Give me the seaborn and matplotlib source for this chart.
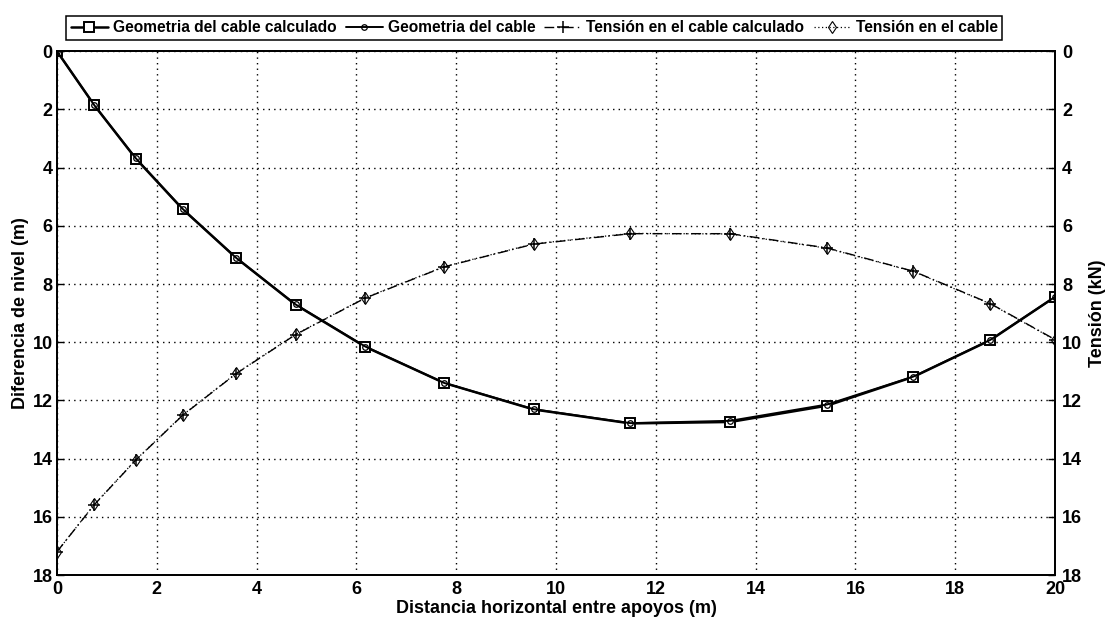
import matplotlib
matplotlib.use("Agg")
import matplotlib.pyplot as plt
import seaborn as sns
import pandas as pd

# Horizontal position of each measuring point along the span (m)
distancia = [0.0, 0.75, 1.58, 2.52, 3.59, 4.78, 6.18, 7.76, 9.55, 11.49,
             13.49, 15.43, 17.16, 18.70, 20.0]

# Cable sag below the upper support (m)
geometria_calculada = [0.0, 1.86, 3.69, 5.43, 7.10, 8.71, 10.16, 11.40, 12.31,
                       12.79, 12.74, 12.18, 11.19, 9.93, 8.44]
geometria_medida = [0.0, 1.86, 3.68, 5.42, 7.10, 8.70, 10.15, 11.40, 12.30,
                    12.78, 12.70, 12.14, 11.18, 9.92, 8.44]

# Cable tension (kN)
tension_calculada = [17.2, 15.58, 14.05, 12.51, 11.08, 9.74, 8.48, 7.41, 6.63,
                     6.27, 6.27, 6.76, 7.56, 8.67, 9.91]
tension_medida = [17.2, 15.57, 14.04, 12.50, 11.07, 9.73, 8.47, 7.40, 6.62,
                  6.26, 6.28, 6.77, 7.57, 8.68, 9.92]

y_ticks = [0, 2, 4, 6, 8, 10, 12, 14, 16, 18]
x_ticks = [0, 2, 4, 6, 8, 10, 12, 14, 16, 18, 20]

sns.set_style("white")
plt.rcParams["font.family"] = ["Liberation Sans", "DejaVu Sans"]
plt.rcParams["font.weight"] = "bold"
plt.rcParams["axes.labelweight"] = "bold"
plt.rcParams["text.color"] = "black"
plt.rcParams["axes.labelcolor"] = "black"
plt.rcParams["xtick.color"] = "black"
plt.rcParams["ytick.color"] = "black"

df = pd.DataFrame({
    "x": distancia,
    "geo_calc": geometria_calculada,
    "geo": geometria_medida,
    "ten_calc": tension_calculada,
    "ten": tension_medida,
})

fig = plt.figure(figsize=(11.06, 6.17), dpi=100)
ax = fig.add_axes([0.0515, 0.068, 0.9025, 0.849])
ax2 = ax.twinx()

sns.lineplot(data=df, x="x", y="geo_calc", ax=ax, color="black", lw=1.8,
             marker="s", markersize=7, markerfacecolor="white",
             markeredgecolor="black", markeredgewidth=1.4,
             label="Geometria del cable calculado", legend=False, sort=False)
sns.lineplot(data=df, x="x", y="geo", ax=ax, color="black", lw=1.4,
             marker="o", markersize=4, markerfacecolor="none",
             markeredgecolor="black", markeredgewidth=0.9,
             label="Geometria del cable", legend=False, sort=False)
sns.lineplot(data=df, x="x", y="ten_calc", ax=ax2, color="black", lw=1.0,
             linestyle=(0, (7, 3, 1, 3)), marker="+", markersize=8,
             markeredgecolor="black", markeredgewidth=1.1,
             label="Tensión en el cable calculado", legend=False, sort=False)
sns.lineplot(data=df, x="x", y="ten", ax=ax2, color="black", lw=0.9,
             linestyle=(0, (1, 2)), marker="d", markersize=6,
             markerfacecolor="none", markeredgecolor="black",
             markeredgewidth=0.8,
             label="Tensión en el cable", legend=False, sort=False)

for a in (ax, ax2):
    a.set_xlim(0, 20)
    a.set_ylim(18, 0)
    a.set_yticks(y_ticks)
    a.tick_params(direction="in", length=5, width=1, labelsize=13,
                  colors="black")
    for s in a.spines.values():
        s.set_color("black")
        s.set_linewidth(1.3)

ax.set_xticks(x_ticks)
ax.set_yticklabels([str(v) for v in y_ticks], fontweight="bold")
ax2.set_yticklabels([str(v) for v in y_ticks], fontweight="bold")
ax.set_xticklabels([str(v) for v in x_ticks], fontweight="bold")
ax.tick_params(axis="x", pad=4)
ax.tick_params(axis="y", pad=3)
ax2.tick_params(axis="y", pad=5)

ax.grid(True, color="black", linestyle=(0, (1, 3)), linewidth=1.0)
ax.set_axisbelow(True)

ax.set_xlabel("Distancia horizontal entre apoyos (m)", fontsize=13,
              fontweight="bold", labelpad=2)
ax.set_ylabel("Diferencia de nivel (m)", fontsize=13, fontweight="bold",
              labelpad=3)
ax2.set_ylabel("Tensión (kN)", fontsize=13, fontweight="bold", labelpad=5)
ax2.set_xlabel("")

h1, l1 = ax.get_legend_handles_labels()
h2, l2 = ax2.get_legend_handles_labels()
leg = fig.legend(h1 + h2, l1 + l2, loc="center",
                 bbox_to_anchor=(0.483, 0.955), ncol=4, frameon=True,
                 fancybox=False, edgecolor="black", framealpha=1,
                 prop={"size": 11.2, "weight": "bold"}, handlelength=2.4,
                 handletextpad=0.3, columnspacing=0.6, borderpad=0.3,
                 borderaxespad=0)
leg.get_frame().set_linewidth(1.1)

fig.savefig("out.png", dpi=100)
